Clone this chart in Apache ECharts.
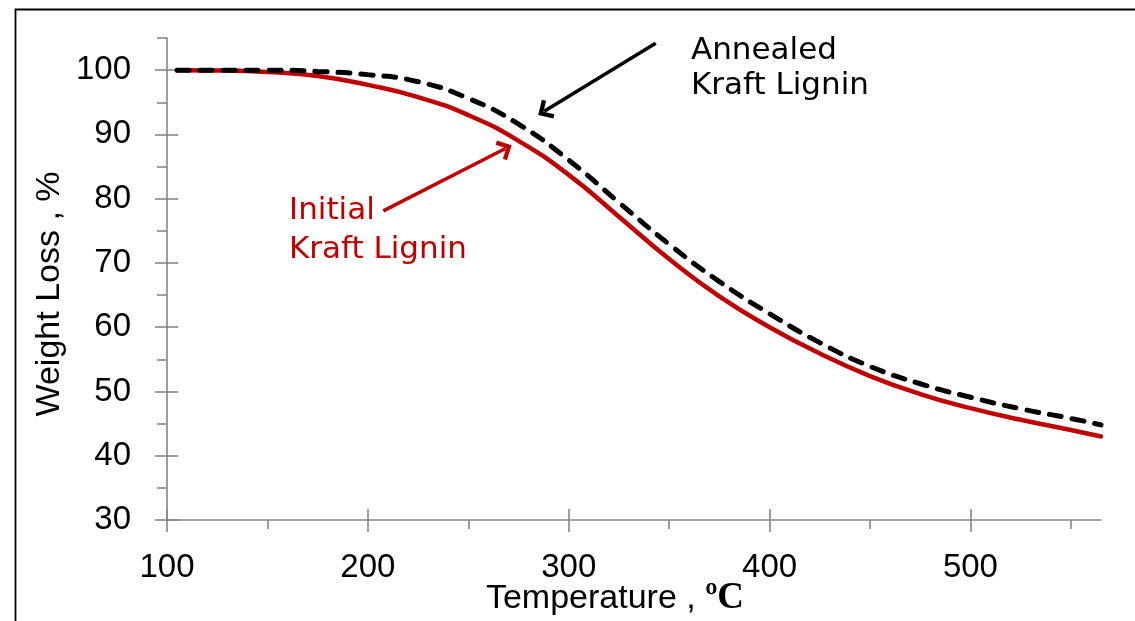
<!DOCTYPE html>
<html>
<head>
<meta charset="utf-8">
<script src="https://cdn.jsdelivr.net/npm/echarts@6/dist/echarts.min.js"></script>
<style>
  html, body { margin: 0; padding: 0; background: #fff; }
  #chart { width: 1135px; height: 621px; }
</style>
</head>
<body>
<div id="chart"></div>
<script>
// TGA weight-loss curves of kraft lignin, before and after annealing
const temperatures = [105, 125, 150, 175, 200, 225, 250, 275, 300, 325, 350, 375, 400, 425, 450, 475, 500, 525, 550, 565];
const initialLignin = [100.0, 99.95, 99.7, 99.1, 97.7, 95.8, 93.0, 89.0, 83.7, 77.2, 70.6, 64.8, 60.0, 55.9, 52.4, 49.6, 47.4, 45.6, 44.0, 43.0];
const annealedLignin = [100.0, 100.0, 100.0, 99.8, 99.3, 98.2, 95.6, 91.6, 86.0, 79.4, 72.9, 67.1, 62.1, 57.6, 53.9, 51.2, 49.1, 47.3, 45.8, 44.8];

const xMajorTicks = [100, 200, 300, 400, 500];
const xMinorTicks = [150, 250, 350, 450, 550];
const yMajorTicks = [30, 40, 50, 60, 70, 80, 90, 100];
const yMinorTicks = [35, 45, 55, 65, 75, 85, 95, 105];

const AXIS_GREY = '#868686';
const RED = '#C00000';
const SANS = 'Liberation Sans';
const NOTE_FONT = 'DejaVu Sans';

// open chevron head, tip pointing up (rotated along the line by ECharts)
const chevron = 'path://M10 0 L20 10 L17.2 12.8 L10 5.6 L2.8 12.8 L0 10 Z';

const chart = echarts.init(document.getElementById('chart'), null, { renderer: 'canvas' });

function pairs(xs, ys) { return xs.map((x, i) => [x, ys[i]]); }

const axisLine = { show: true, onZero: false, lineStyle: { color: AXIS_GREY, width: 1.6 } };
const tickLine = { color: AXIS_GREY, width: 1.6 };

function extraX(inside, length, values) {
  return {
    type: 'value', min: 100, max: 565, position: 'bottom',
    axisLine: { show: false, onZero: false },
    axisTick: { show: true, inside: inside, length: length, lineStyle: tickLine, customValues: values },
    axisLabel: { show: false }, splitLine: { show: false }
  };
}
function extraY(inside, length, values) {
  return {
    type: 'value', min: 30, max: 105, position: 'left',
    axisLine: { show: false, onZero: false },
    axisTick: { show: true, inside: inside, length: length, lineStyle: tickLine, customValues: values },
    axisLabel: { show: false }, splitLine: { show: false }
  };
}

const option = {
  animation: false,
  backgroundColor: '#fff',
  grid: { left: 167, right: 34, top: 38, bottom: 101, containLabel: false, outerBoundsMode: 'none' },
  xAxis: [
    {
      type: 'value', min: 100, max: 565, position: 'bottom',
      axisLine: axisLine,
      axisTick: { show: true, inside: false, length: 12, lineStyle: tickLine, customValues: xMajorTicks },
      axisLabel: { customValues: xMajorTicks, color: '#000', fontFamily: SANS, fontSize: 33, margin: 31 },
      splitLine: { show: false },
      name: '{a|Temperature , }{b|ºC}',
      nameLocation: 'middle',
      nameGap: 60,
      nameMoveOverlap: false,
      nameTextStyle: {
        padding: [0, 38, 0, 0],
        rich: {
          a: { fontFamily: SANS, fontSize: 34, color: '#000' },
          b: { fontFamily: 'Liberation Serif', fontWeight: 'bold', fontSize: 37, color: '#000' }
        }
      }
    },
    extraX(true, 11, xMajorTicks),
    extraX(false, 9, xMinorTicks)
  ],
  yAxis: [
    {
      type: 'value', min: 30, max: 105, position: 'left',
      axisLine: axisLine,
      axisTick: { show: true, inside: false, length: 12, lineStyle: tickLine, customValues: yMajorTicks },
      axisLabel: { customValues: yMajorTicks, color: '#000', fontFamily: SANS, fontSize: 33, margin: 36 },
      splitLine: { show: false },
      name: 'Weight Loss , %',
      nameLocation: 'middle',
      nameGap: 100,
      nameMoveOverlap: false,
      nameTextStyle: { fontFamily: SANS, fontSize: 34, color: '#000', padding: [0, 30, 0, 0] }
    },
    extraY(true, 11, yMajorTicks),
    extraY(false, 10, yMinorTicks)
  ],
  series: [
    {
      name: 'Initial Kraft Lignin',
      type: 'line',
      xAxisIndex: 0, yAxisIndex: 0,
      data: pairs(temperatures, initialLignin),
      smooth: 0.5,
      showSymbol: false,
      lineStyle: { color: RED, width: 4.5, cap: 'round' },
      z: 2,
      markLine: {
        silent: true,
        symbol: ['none', chevron],
        symbolSize: [22, 14],
        label: { show: false },
        lineStyle: { color: RED, width: 3.5, type: 'solid' },
        data: [[{ coord: [207.7, 78.1] }, { coord: [268.5, 87.8] }]]
      }
    },
    {
      name: 'Annealed Kraft Lignin',
      type: 'line',
      xAxisIndex: 0, yAxisIndex: 0,
      data: pairs(temperatures, annealedLignin),
      smooth: 0.5,
      showSymbol: false,
      lineStyle: { color: '#000', width: 5, type: [12, 11], cap: 'round' },
      z: 3,
      markLine: {
        silent: true,
        symbol: ['none', chevron],
        symbolSize: [22, 14],
        label: { show: false },
        lineStyle: { color: '#000', width: 3.5, type: 'solid' },
        data: [[{ coord: [343.3, 104.2] }, { coord: [287.8, 93.6] }]]
      }
    }
  ],
  graphic: [
    {
      type: 'rect', left: 13, top: 7, silent: true,
      shape: { width: 1300, height: 800 },
      style: { fill: 'none', stroke: '#000', lineWidth: 1.8 }
    },
    {
      type: 'text', left: 691, top: 33, silent: true,
      style: { text: 'Annealed\nKraft Lignin', fill: '#000', font: '31px "' + NOTE_FONT + '"', lineHeight: 35 }
    },
    {
      type: 'text', left: 289, top: 191, silent: true,
      style: { text: 'Initial\nKraft Lignin', fill: RED, font: '31px "' + NOTE_FONT + '"', lineHeight: 39 }
    }
  ]
};

chart.setOption(option);
</script>
</body>
</html>
